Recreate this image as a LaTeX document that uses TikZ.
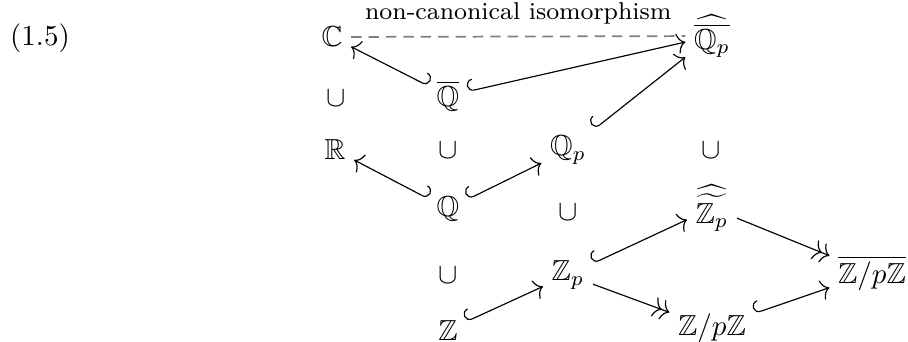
\documentclass[tikz,border=0pt]{standalone}
\usepackage{amsmath,amssymb}
\usetikzlibrary{arrows.meta}
\begin{document}
\begin{tikzpicture}[x=0.345pt,y=-0.345pt,
  obj/.style={inner sep=3pt, outer sep=0pt},
  arr/.style={line width=0.4pt},
  inclR/.style={arr, {Hooks[right,length=2.2pt,width=8pt]}-{To[length=2.8pt,width=7pt]}},
  inclL/.style={arr, {Hooks[left,length=2.2pt,width=8pt]}-{To[length=2.8pt,width=7pt]}},
  surj/.style={arr, -{To[length=2.8pt,width=7pt]To[length=2.8pt,width=7pt]}},
  noncan/.style={line width=0.6pt, draw=gray, dash pattern=on 3.6pt off 2.4pt}]
\useasboundingbox (0,0) rectangle (908,341);
\node[obj] (eq) at (40,38) {(1.5)};
\node[obj] (C) at (332,37) {$\mathbb{C}$};
\node[obj] (Cp) at (712,36) {$\widehat{\overline{\mathbb{Q}_p}}$};
\node[obj] (Qbar) at (448,96) {$\overline{\mathbb{Q}}$};
\node[obj] (cupA) at (336,98) {$\cup$};
\node[obj] (R) at (335,150) {$\mathbb{R}$};
\node[obj] (cupB) at (448,150) {$\cup$};
\node[obj] (Qp) at (568,150) {$\mathbb{Q}_p$};
\node[obj] (cupC) at (711,150) {$\cup$};
\node[obj] (Q) at (448,209) {$\mathbb{Q}$};
\node[obj] (cupD) at (568,212) {$\cup$};
\node[obj] (Zph) at (712,208) {$\widehat{\widetilde{\mathbb{Z}_p}}$};
\node[obj] (cupE) at (448,275) {$\cup$};
\node[obj] (Zp) at (568,275) {$\mathbb{Z}_p$};
\node[obj] (ZpZb) at (872,273) {$\overline{\mathbb{Z}/p\mathbb{Z}}$};
\node[obj] (Z) at (448,330) {$\mathbb{Z}$};
\node[obj] (ZpZ) at (712,328) {$\mathbb{Z}/p\mathbb{Z}$};
\draw[noncan] (C) -- node[above=0.5pt, font=\fontsize{8.4}{10}\selectfont, text=black] {non-canonical isomorphism} (Cp);
\draw[inclL] (Qbar) -- (C);
\draw[inclR] (Qbar) -- (Cp);
\draw[inclR] (Qp) -- (Cp);
\draw[inclL] (Q) -- (R);
\draw[inclR] (Q) -- (Qp);
\draw[inclR] (Z) -- (Zp);
\draw[inclR] (Zp) -- (Zph);
\draw[surj] (Zp) -- (ZpZ);
\draw[surj] (Zph) -- (ZpZb);
\draw[inclR] (ZpZ) -- (ZpZb);
\end{tikzpicture}
\end{document}
